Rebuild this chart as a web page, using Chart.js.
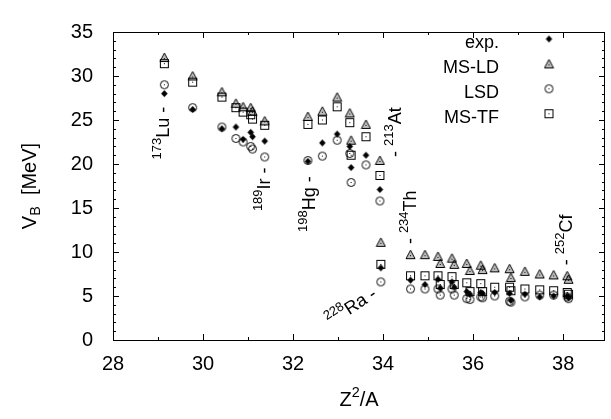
<!DOCTYPE html>
<html>
<head>
<meta charset="utf-8">
<script src="https://cdn.jsdelivr.net/npm/chart.js@4.4.0/dist/chart.umd.min.js"></script>
<style>
    html, body { margin:0; padding:0; background:#fff; }
    #wrap { width:611px; height:419px; }
</style>
</head>
<body>
<div id="wrap"><canvas id="barriera"></canvas></div>
<script>
    // Z^2/A of every nucleus, then the barrier heights (MeV) for each model
    var z2a   = [29.14, 29.77, 30.42, 30.73, 30.89, 31.06, 31.10, 31.37,
                 32.33, 32.65, 32.98, 33.26, 33.29, 33.62, 33.93, 33.95,
                 34.61, 34.93, 35.22, 35.27, 35.53, 35.58, 35.86, 35.93,
                 36.17, 36.21, 36.48, 36.81, 36.84, 37.15, 37.48, 37.79, 38.09, 38.12];
    var vExp  = [28.0, 26.2, 24.0, 24.2, 22.8, 23.6, 23.1, 22.6,
                 20.3, 22.4, 23.4, 22.0, 19.6, 21.0, 17.1, 8.2,
                 6.8, 6.3, 6.9, 5.9, 6.6, 6.0, 5.5, 5.2,
                 5.4, 5.3, 5.4, 5.3, 4.5, 5.2, 4.9, 5.0, 5.0, 4.8];
    var vMsld = [32.1, 30.0, 28.2, 26.9, 26.5, 26.4, 26.0, 24.9,
                 25.4, 26.0, 27.6, 25.8, 22.7, 24.5, 20.4, 11.1,
                 9.7, 9.7, 9.5, 8.7, 9.3, 8.6, 8.7, 7.9,
                 8.5, 8.0, 8.2, 8.1, 7.1, 7.8, 7.5, 7.4, 7.3, 6.9];
    var vLsd  = [29.0, 26.4, 24.2, 22.9, 22.5, 22.0, 21.7, 20.8,
                 20.4, 20.9, 22.7, 21.2, 17.9, 19.9, 15.8, 6.6,
                 5.8, 5.8, 5.8, 5.1, 5.8, 5.1, 4.7, 4.6,
                 4.9, 4.8, 5.0, 4.4, 4.3, 4.9, 5.1, 5.1, 4.9, 4.7];
    var vMstf = [31.4, 29.3, 27.6, 26.4, 25.9, 25.6, 25.1, 24.4,
                 24.5, 25.0, 26.5, 24.7, 21.0, 23.1, 18.7, 8.6,
                 7.3, 7.3, 7.3, 6.3, 7.2, 6.3, 6.5, 5.5,
                 6.4, 5.5, 6.0, 6.0, 5.6, 5.8, 5.7, 5.6, 5.4, 5.2];

    var serie  = ["exp.", "MS-LD", "LSD", "MS-TF"];
    var xTicks = [28, 30, 32, 34, 36, 38];
    var yTicks = [0, 5, 10, 15, 20, 25, 30, 35];

    // nuclide names written along the data
    var nuclidi = [
        {parts:[["173","sup"],["Lu -"]],   x:29.14, y:26.5, ang:-90, align:"right"},
        {parts:[["189","sup"],["Ir -"]],   x:31.37, y:19.6, ang:-90, align:"right"},
        {parts:[["198","sup"],["Hg -"]],   x:32.38, y:18.6, ang:-90, align:"right"},
        {parts:[["- "],["213","sup"],["At"]], x:34.28, y:20.8, ang:-90, align:"left"},
        {parts:[["228","sup"],["Ra -"]],   x:33.82, y:5.4,  ang:-33, align:"right"},
        {parts:[["- "],["234","sup"],["Th"]], x:34.61, y:10.9, ang:-90, align:"left"},
        {parts:[["- "],["252","sup"],["Cf"]], x:38.09, y:8.5,  ang:-90, align:"left"}
    ];

    var FONT = "'Liberation Sans', Arial, Helvetica, sans-serif";

    function punti(vals){
        var out = [];
        for(var i=0; i<z2a.length; i++){
            out.push({x: z2a[i], y: vals[i]});
        }
        return out;
    }

    // small gnuplot-like symbols, drawn once on tiny canvases
    function simbolo(tipo){
        var c = document.createElement("canvas");
        c.width = 11; c.height = 11;
        var g = c.getContext("2d");
        g.strokeStyle = "#000"; g.fillStyle = "#000"; g.lineWidth = 1;
        if(tipo == "diamond"){
            g.beginPath();
            g.moveTo(5.5, 2); g.lineTo(8.8, 5.5); g.lineTo(5.5, 9); g.lineTo(2.2, 5.5);
            g.closePath(); g.fill();
            return c;
        }
        if(tipo == "tri"){
            g.beginPath();
            g.moveTo(5.5, 1); g.lineTo(10, 9.5); g.lineTo(1, 9.5); g.closePath();
            g.fillStyle = "rgba(0,0,0,0.25)"; g.fill();
            g.stroke();
        }
        if(tipo == "circ"){
            g.beginPath(); g.arc(5.5, 5.5, 4, 0, Math.PI*2); g.stroke();
        }
        if(tipo == "sq"){
            g.strokeRect(1.5, 1.5, 8, 8);
        }
        g.fillStyle = "#000";
        g.fillRect(5, tipo == "tri" ? 6 : 5, 1, 1);
        return c;
    }

    var simboli = [simbolo("diamond"), simbolo("tri"), simbolo("circ"), simbolo("sq")];

    function testoRicco(ctx, parts, x, y, ang, align, size){
        ctx.save();
        ctx.translate(x, y);
        ctx.rotate(ang*Math.PI/180);
        ctx.textBaseline = "middle";
        ctx.textAlign = "left";
        ctx.fillStyle = "#000";
        var w = 0, ws = [];
        for(var i=0; i<parts.length; i++){
            var s = parts[i][1] ? size*0.72 : size;
            ctx.font = s + "px " + FONT;
            ws[i] = ctx.measureText(parts[i][0]).width;
            w += ws[i];
        }
        var cx = align == "right" ? -w : (align == "center" ? -w/2 : 0);
        for(var i=0; i<parts.length; i++){
            var k = parts[i][1];
            ctx.font = (k ? size*0.72 : size) + "px " + FONT;
            var dy = k == "sup" ? -size*0.36 : (k == "sub" ? size*0.3 : 0);
            ctx.fillText(parts[i][0], cx, dy);
            cx += ws[i];
        }
        ctx.restore();
    }

    var cornice = {
        id: "cornice",
        afterDatasetsDraw: function(chart){
            var ctx = chart.ctx, a = chart.chartArea;
            var sx = chart.scales.x, sy = chart.scales.y;
            ctx.save();
            ctx.strokeStyle = "#000";
            ctx.lineWidth = 1;
            ctx.beginPath();
            ctx.rect(Math.round(a.left)+0.5, Math.round(a.top)+0.5,
                     Math.round(a.right-a.left)-1, Math.round(a.bottom-a.top));
            // ticks pointing inward on all four sides
            for(var v=28; v<=38; v++){
                var px = Math.round(sx.getPixelForValue(v))+0.5;
                var l = v%2==0 ? 6 : 3;
                ctx.moveTo(px, a.bottom); ctx.lineTo(px, a.bottom-l);
                ctx.moveTo(px, a.top); ctx.lineTo(px, a.top+l);
            }
            for(var v=0; v<=35; v++){
                var py = Math.round(sy.getPixelForValue(v))+0.5;
                var l = v%5==0 ? 6 : 3;
                ctx.moveTo(a.left, py); ctx.lineTo(a.left+l, py);
                ctx.moveTo(a.right, py); ctx.lineTo(a.right-l, py);
            }
            ctx.stroke();

            // nuclide names
            for(var i=0; i<nuclidi.length; i++){
                var n = nuclidi[i];
                testoRicco(ctx, n.parts, sx.getPixelForValue(n.x), sy.getPixelForValue(n.y), n.ang, n.align, 18);
            }

            // legend: text on the left, symbol on the right
            ctx.font = "18px " + FONT;
            ctx.textAlign = "right";
            ctx.textBaseline = "alphabetic";
            ctx.fillStyle = "#000";
            for(var i=0; i<serie.length; i++){
                var by = 48 + i*24.9;
                ctx.fillText(serie[i], 499, by);
                ctx.drawImage(simboli[i], 549-5.5, by-9-5.5);
            }

            // axis titles
            testoRicco(ctx, [["Z"],["2","sup"],["/A"]], (a.left+a.right)/2, 400, 0, "center", 20);
            testoRicco(ctx, [["V"],["B","sub"],["  [MeV]"]], 30, (a.top+a.bottom)/2, -90, "center", 20);
            ctx.restore();
        }
    };

    var dati = [vExp, vMsld, vLsd, vMstf];
    var datasets = [];
    for(var i=0; i<serie.length; i++){
        datasets.push({
            label: serie[i],
            data: punti(dati[i]),
            pointStyle: simboli[i],
            pointRadius: 5,
            showLine: false
        });
    }

    new Chart("barriera", {
        type: "scatter",
        data: { datasets: datasets },
        plugins: [cornice],
        options: {
            responsive: true,
            maintainAspectRatio: false,
            animation: false,
            layout: { padding: { left: 0, top: 19, right: 2, bottom: 0 } },
            plugins: { legend: { display: false }, tooltip: { enabled: false } },
            scales: {
                x: {
                    type: "linear", min: 28, max: 38.93,
                    afterBuildTicks: function(s){ s.ticks = xTicks.map(function(v){ return {value: v}; }); },
                    afterFit: function(s){ s.height = 79; },
                    grid: { display: false, drawTicks: false },
                    border: { display: false },
                    ticks: { color: "#000", padding: 12, maxRotation: 0, font: { family: FONT, size: 20 } }
                },
                y: {
                    type: "linear", min: 0, max: 35,
                    afterBuildTicks: function(s){ s.ticks = yTicks.map(function(v){ return {value: v}; }); },
                    afterFit: function(s){ s.width = 113; },
                    grid: { display: false, drawTicks: false },
                    border: { display: false },
                    ticks: { color: "#000", padding: 20, font: { family: FONT, size: 20 } }
                }
            }
        }
    });
</script>
</body>
</html>
